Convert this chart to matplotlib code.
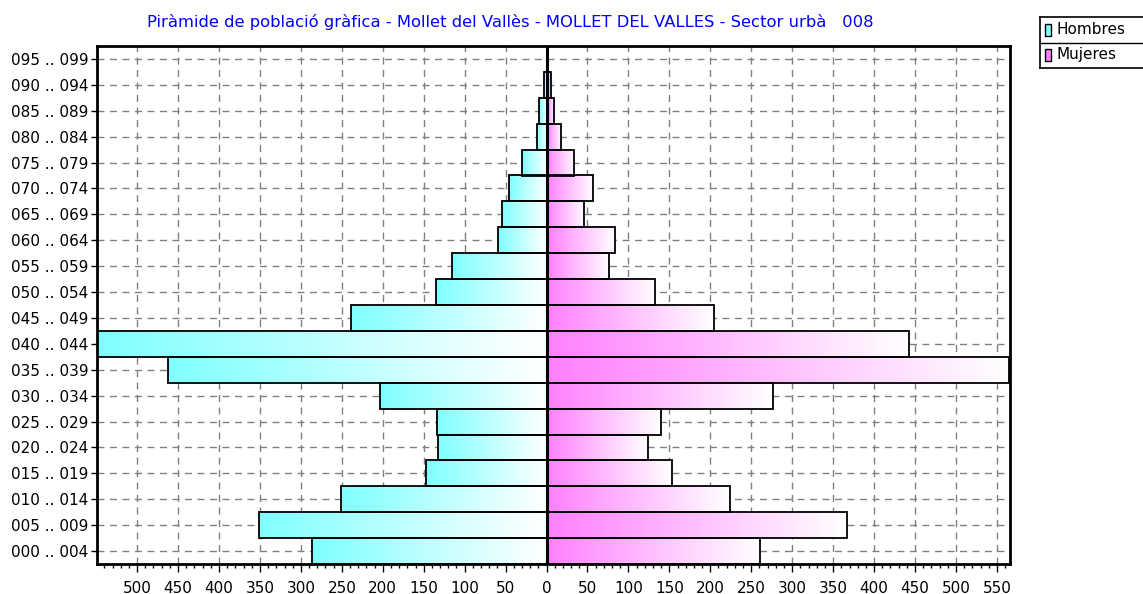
import numpy as np
import matplotlib
matplotlib.use("Agg")
import matplotlib.pyplot as plt
from matplotlib.colors import LinearSegmentedColormap
from matplotlib.patches import Rectangle
from matplotlib.ticker import MultipleLocator, FuncFormatter

# age groups, bottom to top
age_groups = ["000 .. 004", "005 .. 009", "010 .. 014", "015 .. 019", "020 .. 024",
              "025 .. 029", "030 .. 034", "035 .. 039", "040 .. 044", "045 .. 049",
              "050 .. 054", "055 .. 059", "060 .. 064", "065 .. 069", "070 .. 074",
              "075 .. 079", "080 .. 084", "085 .. 089", "090 .. 094", "095 .. 099"]
hombres = [287, 351, 251, 147, 132, 134, 203, 462, 549, 239,
           135, 116, 59, 55, 46, 30, 12, 9, 3, 0]
mujeres = [261, 367, 224, 153, 124, 140, 276, 565, 443, 204,
           133, 76, 84, 46, 57, 33, 18, 9, 5, 0]

title = "Piràmide de població gràfica - Mollet del Vallès - MOLLET DEL VALLES - Sector urbà   008"

plt.rcParams['font.family'] = ['DejaVu Sans']

cyan = "#80ffff"
magenta = "#ff80ff"
cmap_h = LinearSegmentedColormap.from_list("h", [cyan, "white"])
cmap_m = LinearSegmentedColormap.from_list("m", [magenta, "white"])
grad = np.linspace(0, 1, 256).reshape(1, -1)

fig = plt.figure(figsize=(11.43, 5.94), dpi=100)
ax = fig.add_axes([97 / 1143, 1 - 564 / 594, (1010 - 97) / 1143, (564 - 46) / 594])

y = np.arange(len(age_groups))

# gradient fills
for yi, h, m in zip(y, hombres, mujeres):
    if h > 0:
        ax.imshow(grad, cmap=cmap_h, aspect="auto", extent=[-h, 0, yi - 0.5, yi + 0.5],
                  interpolation="bilinear", zorder=2)
    if m > 0:
        ax.imshow(grad, cmap=cmap_m, aspect="auto", extent=[0, m, yi - 0.5, yi + 0.5],
                  interpolation="bilinear", zorder=2)

# outlines
ax.barh(y, [-v for v in hombres], height=1.0, facecolor="none", edgecolor="black",
        linewidth=1.3, zorder=3)
ax.barh(y, mujeres, height=1.0, facecolor="none", edgecolor="black",
        linewidth=1.3, zorder=3)
ax.axvline(0, color="black", linewidth=2.2, zorder=4)

# axis runs from the largest male bar to the largest female bar
ax.set_xlim(-max(hombres), max(mujeres) + 1)
ax.set_ylim(-0.5, len(age_groups) - 0.5)

ax.xaxis.set_major_locator(MultipleLocator(50))
ax.xaxis.set_minor_locator(MultipleLocator(10))
ax.xaxis.set_major_formatter(FuncFormatter(lambda v, p: "%d" % abs(v)))
ax.set_yticks(y)
ax.set_yticklabels(age_groups)

ax.tick_params(axis="x", which="major", direction="out", length=6, width=1, labelsize=11, pad=6)
ax.tick_params(axis="x", which="minor", direction="out", length=3, width=1)
ax.tick_params(axis="y", direction="out", length=4, width=1, labelsize=11, pad=2)

ax.grid(True, which="major", color="#808080", linestyle=(0, (5, 4)), linewidth=1, zorder=1)
ax.set_axisbelow(True)
for s in ax.spines.values():
    s.set_linewidth(2)

fig.text(510 / 1143, 1 - 22 / 594, title, color="#0000ff", fontsize=11.8,
         ha="center", va="center")

# legend box
lax = fig.add_axes([1040 / 1143, 1 - 68 / 594, 112 / 1143, 51 / 594])
lax.set_xlim(0, 112)
lax.set_ylim(51, 0)
lax.set_xticks([])
lax.set_yticks([])
for s in lax.spines.values():
    s.set_linewidth(1.2)
lax.axhline(26, color="black", linewidth=1)
for i, (lbl, col) in enumerate([("Hombres", cyan), ("Mujeres", magenta)]):
    yc = 13 + i * 25
    lax.add_patch(Rectangle((5, yc - 6), 6, 12, facecolor=col, edgecolor="black", linewidth=1))
    lax.text(16, yc, lbl, fontsize=11, va="center", ha="left")

fig.savefig("out.png", dpi=100)
